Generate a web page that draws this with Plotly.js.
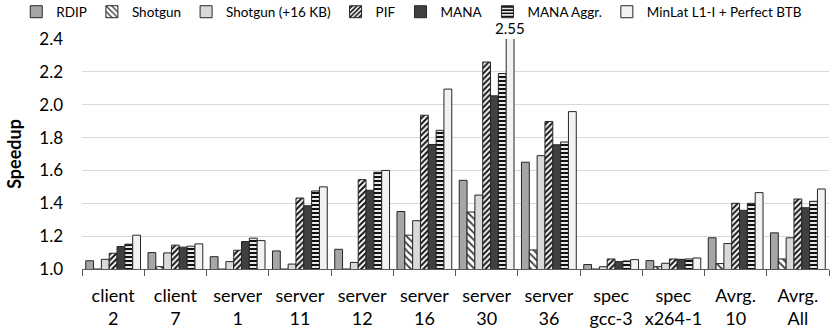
<!DOCTYPE html>
<html>
<head>
<meta charset="utf-8">
<script src="https://cdn.plot.ly/plotly-3.0.1.min.js"></script>
<style>
  html, body { margin: 0; padding: 0; background: #fff; }
  #chart { width: 830px; height: 331px; }
</style>
</head>
<body>
<div id="chart"></div>
<script>
// workloads on the x axis
const categories = ['client<br>2', 'client<br>7', 'server<br>1', 'server<br>11', 'server<br>12',
    'server<br>16', 'server<br>30', 'server<br>36', 'spec<br>gcc-3', 'spec<br>x264-1',
    'Avrg.<br>10', 'Avrg.<br>All'];

// speedup per scheme
const rdip      = [1.05, 1.10, 1.075, 1.11, 1.12, 1.35, 1.54, 1.65, 1.027, 1.051, 1.19, 1.22];
const shotgun   = [1.00, 1.014, 1.00, 1.00, 1.00, 1.206, 1.347, 1.116, 1.00, 1.014, 1.033, 1.061];
const shotgun16 = [1.059, 1.098, 1.045, 1.03, 1.04, 1.294, 1.45, 1.69, 1.014, 1.035, 1.155, 1.19];
const pif       = [1.096, 1.145, 1.114, 1.432, 1.544, 1.936, 2.26, 1.898, 1.061, 1.061, 1.40, 1.426];
const mana      = [1.137, 1.133, 1.167, 1.385, 1.479, 1.758, 2.054, 1.756, 1.045, 1.059, 1.357, 1.373];
const manaAggr  = [1.151, 1.139, 1.188, 1.475, 1.589, 1.844, 2.19, 1.773, 1.049, 1.061, 1.40, 1.412];
const minLat    = [1.206, 1.153, 1.173, 1.50, 1.60, 2.095, 2.55, 1.958, 1.057, 1.067, 1.465, 1.487];

const yTicks = [1.0, 1.2, 1.4, 1.6, 1.8, 2.0, 2.2, 2.4];

const font = 'Lato, "Open Sans", sans-serif';
const edge = { color: '#262626', width: 1 };

function bars(name, y, color, pattern) {
    const marker = { color: color, line: edge };
    if (pattern) marker.pattern = pattern;
    return { type: 'bar', name: name, x: categories, y: y, marker: marker, hoverinfo: 'y' };
}

const data = [
    bars('RDIP', rdip, '#a6a6a6'),
    bars('Shotgun', shotgun, '#ffffff',
        { shape: '\\', fgcolor: '#404040', bgcolor: '#ffffff', size: 5, solidity: 0.35 }),
    bars('Shotgun (+16 KB)', shotgun16, '#d9d9d9'),
    bars('PIF', pif, '#ffffff',
        { shape: '/', fgcolor: '#111111', bgcolor: '#ffffff', size: 4, solidity: 0.5 }),
    bars('MANA', mana, '#404040'),
    bars('MANA Aggr.', manaAggr, '#ffffff',
        { shape: '-', fgcolor: '#111111', bgcolor: '#ffffff', size: 4, solidity: 0.55 }),
    bars('MinLat L1-I + Perfect BTB', minLat, '#f2f2f2')
];

const layout = {
    width: 830,
    height: 331,
    margin: { l: 82, r: 1, t: 39, b: 62, autoexpand: false },
    font: { family: font, size: 17, color: '#000' },
    paper_bgcolor: '#fff',
    plot_bgcolor: '#fff',
    barmode: 'group',
    bargap: 0.12,
    bargroupgap: 0,
    showlegend: true,
    // left of and above the plot area, so it may span the whole width
    legend: {
        orientation: 'h',
        x: -0.088, xanchor: 'left',
        y: 1.185, yanchor: 'top',
        font: { family: font, size: 13.5 },
        itemwidth: 30,
        tracegroupgap: 0,
        borderwidth: 0,
        bgcolor: 'rgba(0,0,0,0)'
    },
    xaxis: {
        type: 'category',
        tickson: 'boundaries',
        ticks: 'outside',
        ticklen: 6,
        tickcolor: '#595959',
        tickangle: 0,
        ticklabelstandoff: 10,
        showline: true,
        linecolor: '#595959',
        linewidth: 1,
        showgrid: false,
        tickfont: { family: font, size: 18 },
        fixedrange: true
    },
    yaxis: {
        range: [1.0, 2.4],
        tickvals: yTicks,
        ticktext: yTicks.map(v => v.toFixed(1)),
        showgrid: true,
        gridcolor: '#d9d9d9',
        gridwidth: 1,
        zeroline: false,
        showline: false,
        ticks: '',
        ticklabelstandoff: 18,
        tickfont: { family: font, size: 17 },
        title: { text: '<b>Speedup</b>', font: { family: font, size: 18 }, standoff: 12 },
        fixedrange: true
    },
    annotations: [{
        xref: 'x', yref: 'y',
        x: 6 + 3 * (0.88 / 7), y: 2.4,
        text: '2.55',
        showarrow: false,
        yanchor: 'bottom',
        yshift: 0,
        font: { family: font, size: 15 }
    }]
};

Plotly.newPlot('chart', data, layout, { displayModeBar: false, staticPlot: true });
</script>
</body>
</html>
